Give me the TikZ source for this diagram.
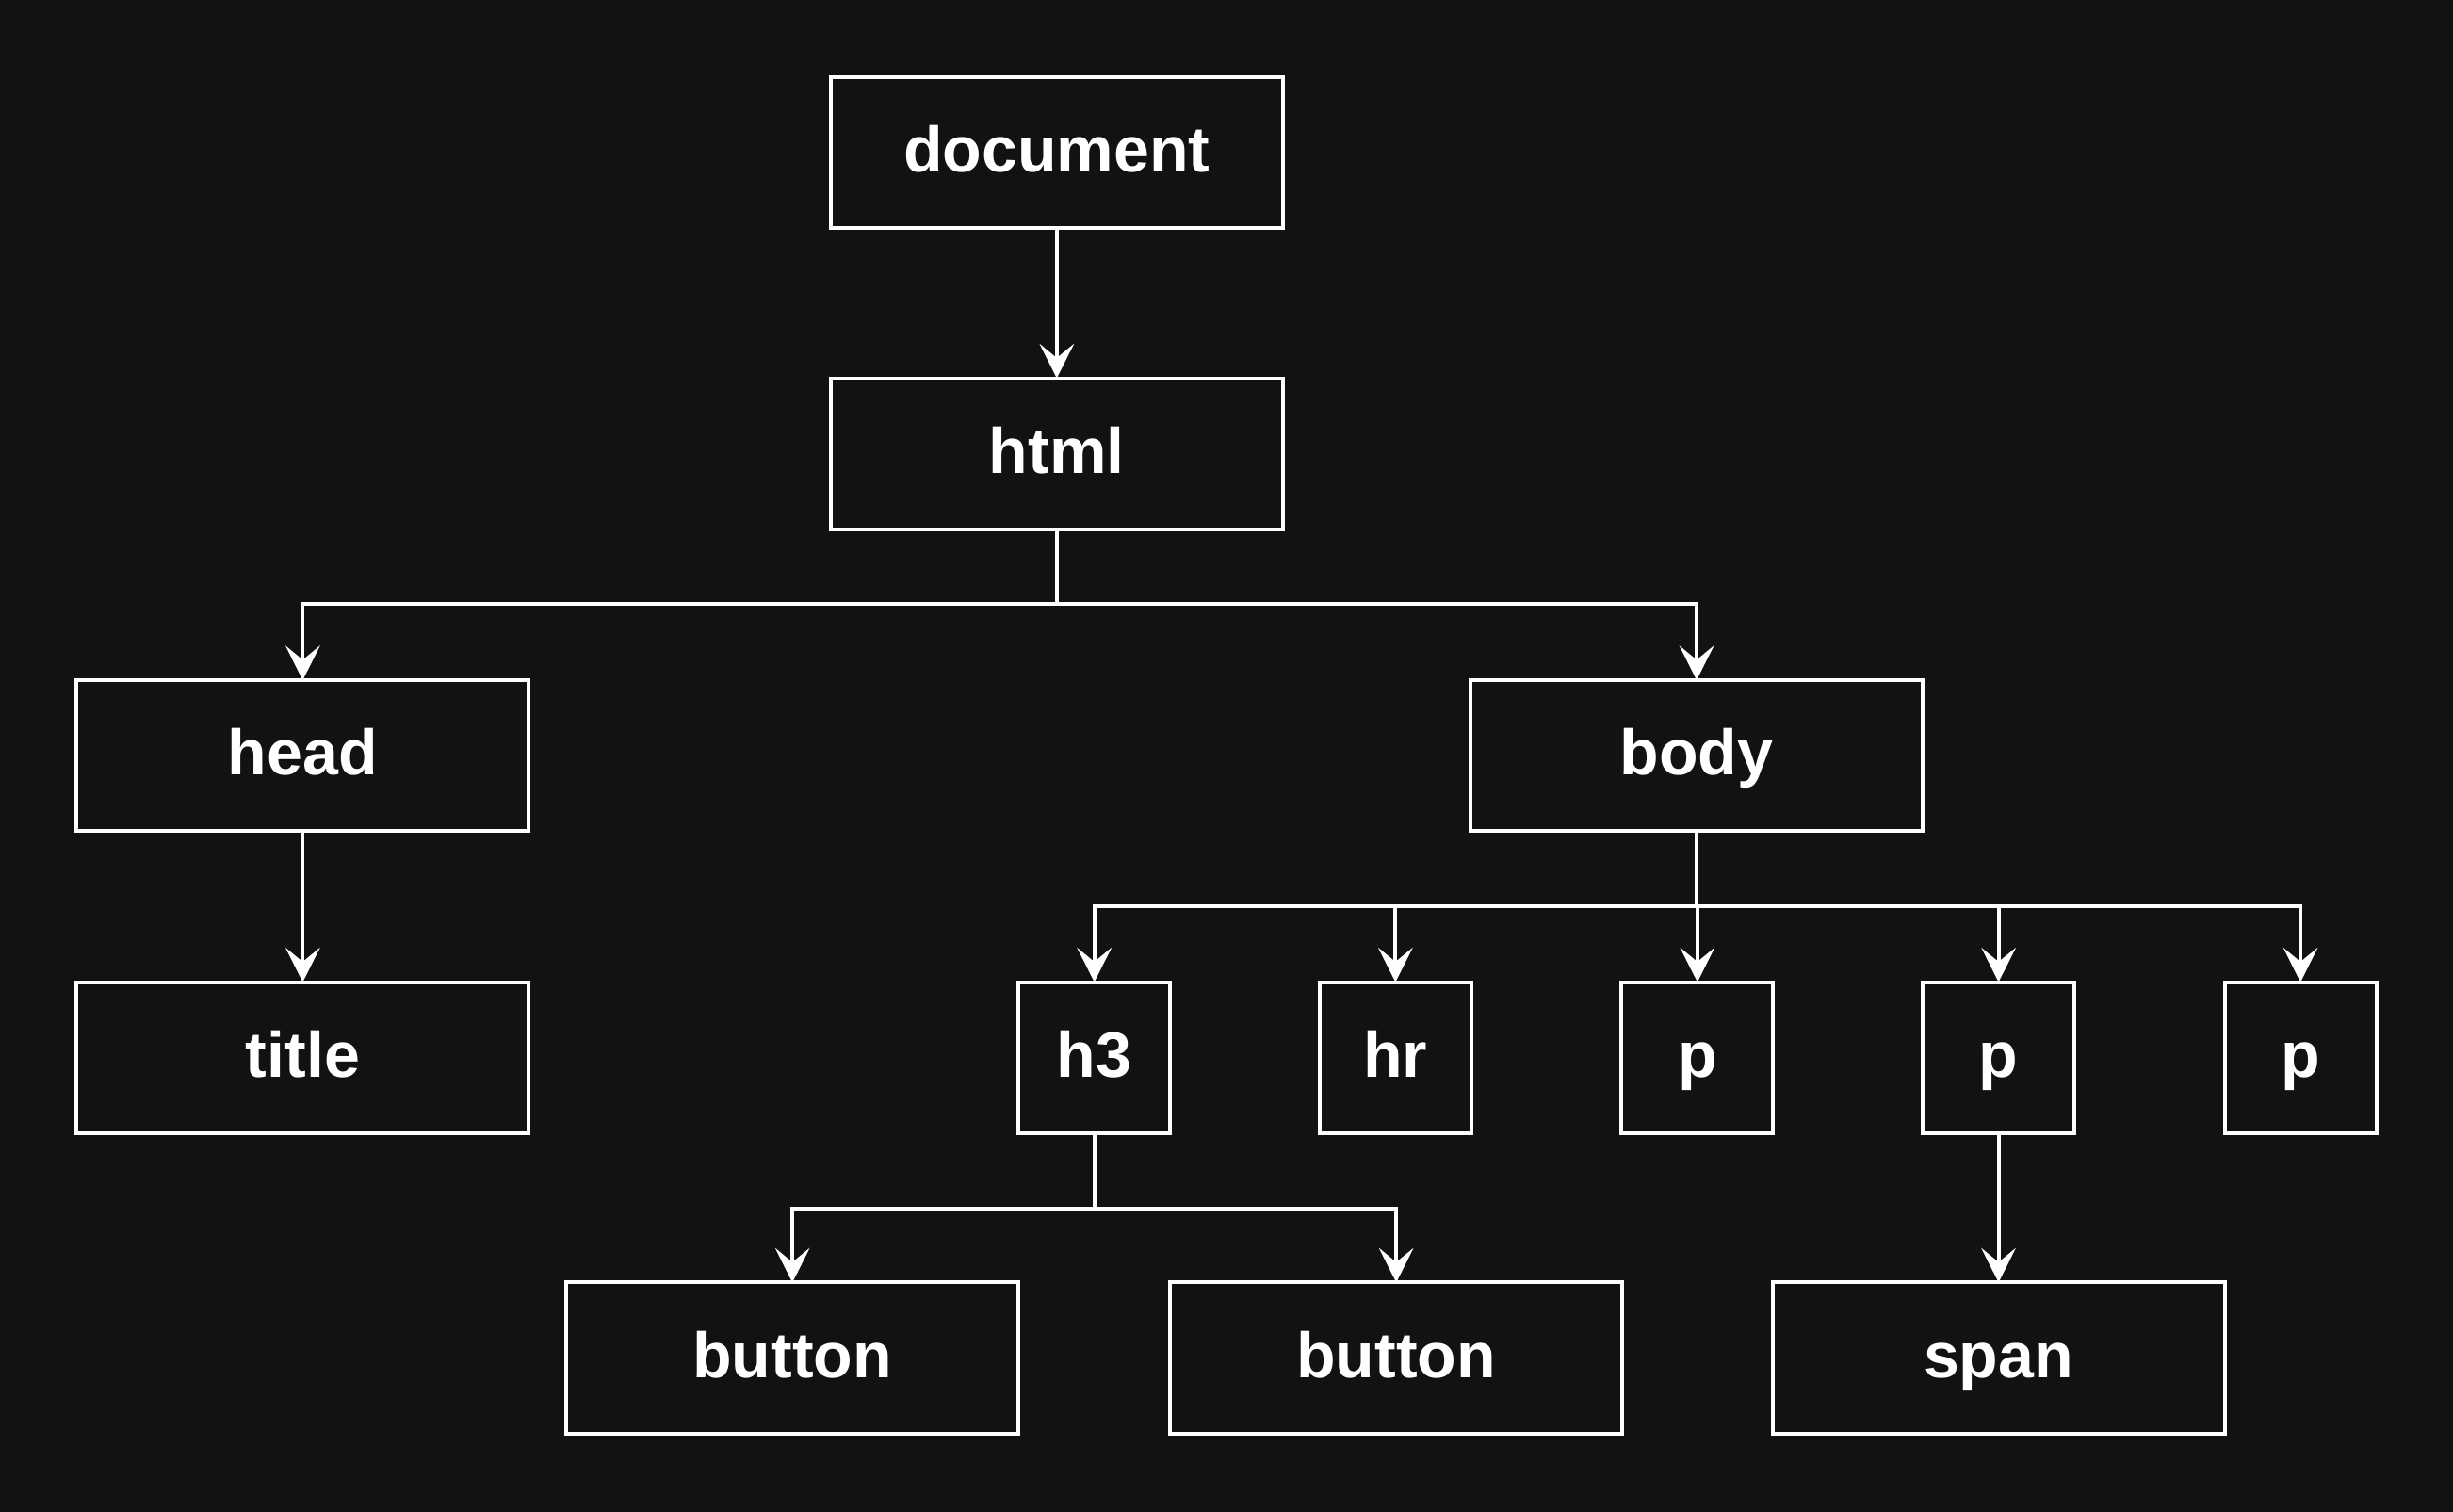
\documentclass[tikz,border=0pt]{standalone}
\usepackage{fontspec}
\setmainfont{Liberation Sans}
\usetikzlibrary{arrows.meta}
\definecolor{bg}{HTML}{121212}
\tikzset{
  box/.style={draw=white, line width=1.2pt, fill=bg, text=white, font=\fontsize{20.5}{24}\selectfont\bfseries,
    minimum width=144.5pt, minimum height=48.25pt, inner sep=0pt, outer sep=0pt,
    text height=12.5pt, text depth=0pt},
  sbox/.style={box, minimum width=48.5pt},
  arr/.style={draw=white, line width=1.2pt, -{Stealth[length=11pt, width=11pt, inset=4.5pt]}}
}
\begin{document}
\begin{tikzpicture}[x=0.5pt, y=-0.5pt]
\useasboundingbox (0,0) rectangle (1568,966);
\fill[bg] (-10,-10) rectangle (1578,976);
\node[box] (document) at (675.5,97.5) {document};
\node[box] (html) at (675.5,290) {html};
\node[box] (head) at (193.5,483) {head};
\node[box] (body) at (1084.5,483) {body};
\node[box] (title) at (193.5,676) {title};
\node[sbox] (h3) at (699.5,676) {h3};
\node[sbox] (hr) at (892,676) {hr};
\node[sbox] (p1) at (1085,676) {p};
\node[sbox] (p2) at (1277.5,676) {p};
\node[sbox] (p3) at (1470.5,676) {p};
\node[box] (button1) at (506.5,868) {button};
\node[box] (button2) at (892.5,868) {button};
\node[box] (span) at (1277.5,868) {span};

\draw[arr] (document.south) -- (html.north);
\draw[arr] (html.south) -- ++(0,48) -| (head.north);
\draw[arr] (html.south) -- ++(0,48) -| (body.north);
\draw[arr] (head.south) -- (title.north);
\foreach \c in {h3,hr,p1,p2,p3}{
  \draw[arr] (body.south) -- ++(0,48) -| (\c.north);
}
\draw[arr] (h3.south) -- ++(0,48) -| (button1.north);
\draw[arr] (h3.south) -- ++(0,48) -| (button2.north);
\draw[arr] (p2.south) -- (span.north);
\end{tikzpicture}
\end{document}
